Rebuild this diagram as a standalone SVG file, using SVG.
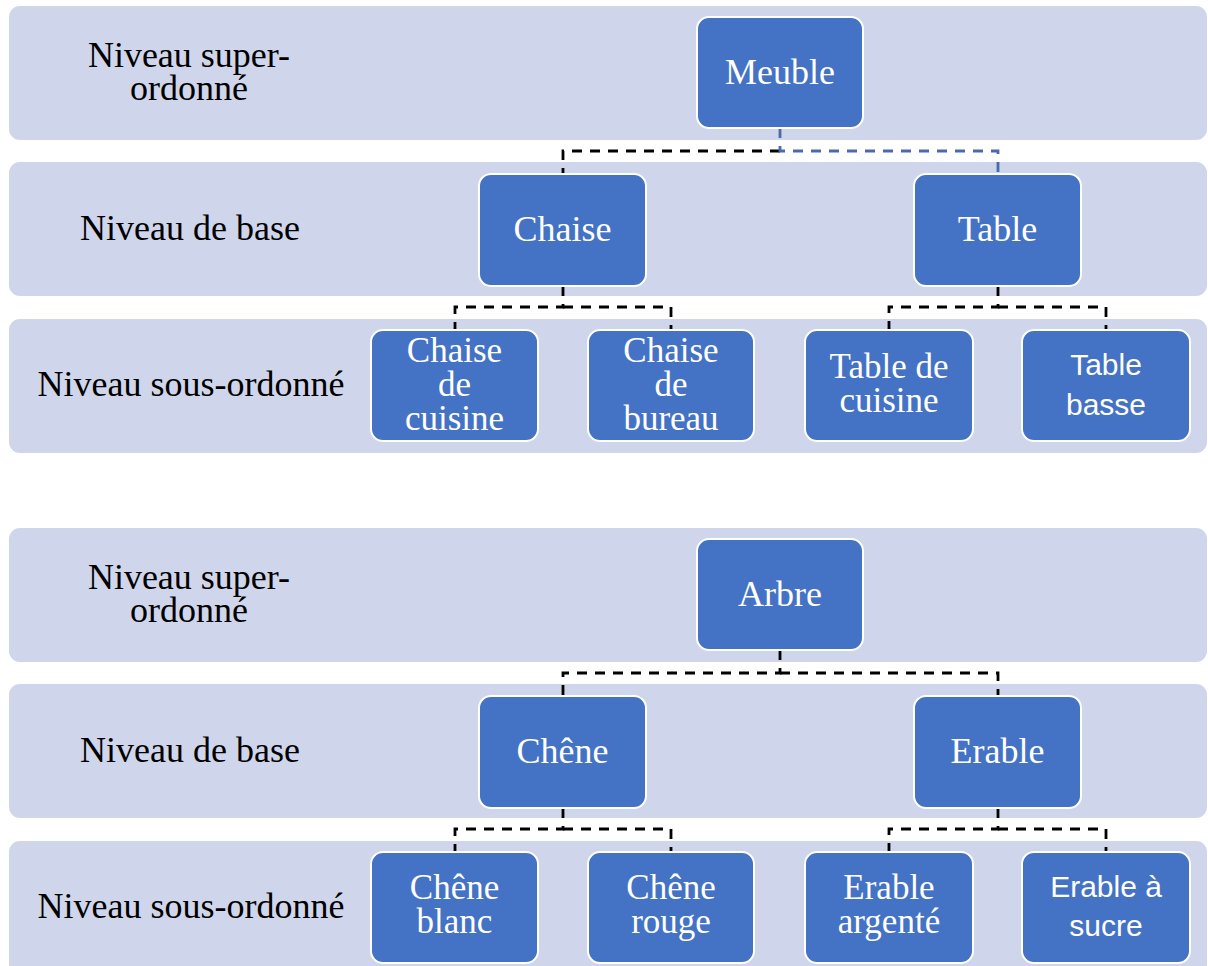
<svg xmlns="http://www.w3.org/2000/svg" width="1208" height="966" viewBox="0 0 1208 966">
<style>
.band{fill:#CFD5EA}
.node{fill:#4472C4;stroke:#FFFFFF;stroke-width:2}
.lbl{font-family:"Liberation Serif",serif;font-size:36px;fill:#000000;text-anchor:middle}
.t{font-family:"Liberation Serif",serif;font-size:36px;fill:#FFFFFF;text-anchor:middle}
.tm{font-family:"Liberation Serif",serif;font-size:35px;fill:#FFFFFF;text-anchor:middle}
.ts{font-family:"Liberation Sans",Arial,sans-serif;font-size:30px;fill:#FFFFFF;text-anchor:middle}
.c{fill:none;stroke:#000000;stroke-width:2.8;stroke-dasharray:10 8}
.cb{fill:none;stroke:#4A6AAE;stroke-width:2.8;stroke-dasharray:10 8}
</style>
<rect width="1208" height="966" fill="#FFFFFF"/>
<g id="bands">
<rect class="band" x="9" y="6" width="1198" height="134" rx="11"/>
<rect class="band" x="9" y="162" width="1198" height="134" rx="11"/>
<rect class="band" x="9" y="319" width="1198" height="134" rx="11"/>
<rect class="band" x="9" y="528" width="1198" height="134" rx="11"/>
<rect class="band" x="9" y="684" width="1198" height="134" rx="11"/>
<rect class="band" x="9" y="841" width="1198" height="134" rx="11"/>
</g>
<g id="labels">
<text class="lbl" x="189" y="67">Niveau super-</text>
<text class="lbl" x="189" y="100">ordonné</text>
<text class="lbl" x="190" y="240">Niveau de base</text>
<text class="lbl" x="191" y="396">Niveau sous-ordonné</text>
<text class="lbl" x="189" y="589">Niveau super-</text>
<text class="lbl" x="189" y="622">ordonné</text>
<text class="lbl" x="190" y="762">Niveau de base</text>
<text class="lbl" x="191" y="918">Niveau sous-ordonné</text>
</g>
<g id="connectors">
<path class="c" d="M780,151 H563 V174"/>
<path class="cb" d="M780,128 V151 H998 V174"/>
<path class="c" d="M563,286 V307 H455 V330"/>
<path class="c" d="M563,307 H671 V330"/>
<path class="c" d="M998,286 V307 H889 V330"/>
<path class="c" d="M998,307 H1106 V330"/>
<path class="c" d="M780,650 V673 H563 V696"/>
<path class="c" d="M780,673 H998 V696"/>
<path class="c" d="M563,808 V829 H455 V852"/>
<path class="c" d="M563,829 H671 V852"/>
<path class="c" d="M998,808 V829 H889 V852"/>
<path class="c" d="M998,829 H1106 V852"/>
</g>
<g id="meuble"><rect class="node" x="697" y="17" width="166" height="111" rx="12"/><text class="t" x="780" y="84">Meuble</text></g>
<g id="chaise"><rect class="node" x="479" y="174" width="167" height="112" rx="12"/><text class="t" x="562.5" y="241">Chaise</text></g>
<g id="table"><rect class="node" x="914" y="174" width="167" height="112" rx="12"/><text class="t" x="997.5" y="241">Table</text></g>
<g id="chaise-cuisine"><rect class="node" x="371" y="330" width="167" height="111" rx="12"/><text class="tm" x="454.5" y="362">Chaise</text><text class="tm" x="454.5" y="396">de</text><text class="tm" x="454.5" y="430">cuisine</text></g>
<g id="chaise-bureau"><rect class="node" x="588" y="330" width="166" height="111" rx="12"/><text class="tm" x="671" y="362">Chaise</text><text class="tm" x="671" y="396">de</text><text class="tm" x="671" y="430">bureau</text></g>
<g id="table-cuisine"><rect class="node" x="805" y="330" width="168" height="111" rx="12"/><text class="tm" x="889" y="378">Table de</text><text class="tm" x="889" y="412">cuisine</text></g>
<g id="table-basse"><rect class="node" x="1022" y="330" width="168" height="111" rx="12"/><text class="ts" x="1106" y="375">Table</text><text class="ts" x="1106" y="415">basse</text></g>
<g id="arbre"><rect class="node" x="697" y="539" width="166" height="111" rx="12"/><text class="t" x="780" y="606">Arbre</text></g>
<g id="chene"><rect class="node" x="479" y="696" width="167" height="112" rx="12"/><text class="t" x="562.5" y="763">Chêne</text></g>
<g id="erable"><rect class="node" x="914" y="696" width="167" height="112" rx="12"/><text class="t" x="997.5" y="763">Erable</text></g>
<g id="chene-blanc"><rect class="node" x="371" y="852" width="167" height="111" rx="12"/><text class="tm" x="454.5" y="899">Chêne</text><text class="tm" x="454.5" y="933">blanc</text></g>
<g id="chene-rouge"><rect class="node" x="588" y="852" width="166" height="111" rx="12"/><text class="tm" x="671" y="899">Chêne</text><text class="tm" x="671" y="933">rouge</text></g>
<g id="erable-argente"><rect class="node" x="805" y="852" width="168" height="111" rx="12"/><text class="tm" x="889" y="899">Erable</text><text class="tm" x="889" y="933">argenté</text></g>
<g id="erable-sucre"><rect class="node" x="1022" y="852" width="168" height="111" rx="12"/><text class="ts" x="1106" y="897">Erable à</text><text class="ts" x="1106" y="936">sucre</text></g>
</svg>
